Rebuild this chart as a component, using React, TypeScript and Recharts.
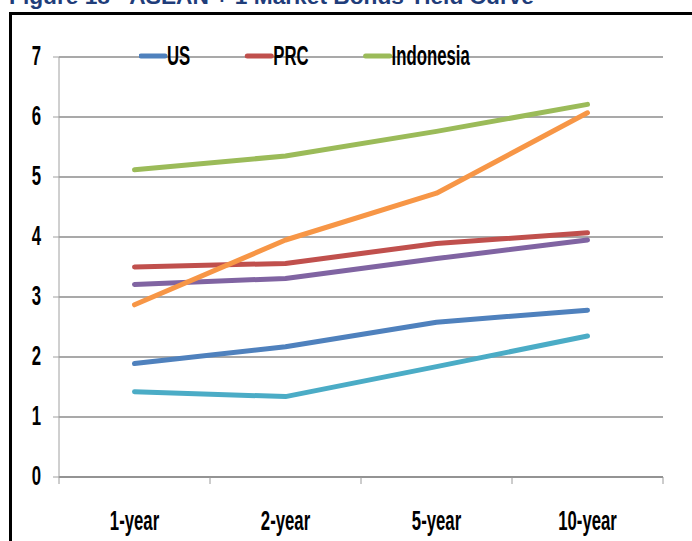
import React from "react";
import { LineChart, Line, XAxis, YAxis, CartesianGrid } from "recharts";

// tenors on the x axis
const terms = ["1-year", "2-year", "5-year", "10-year"];

// yields (%) by market
const us = [1.89, 2.17, 2.58, 2.78];
const prc = [3.5, 3.56, 3.89, 4.07];
const indonesia = [5.12, 5.35, 5.76, 6.21];
const malaysia = [3.21, 3.31, 3.64, 3.95];
const singapore = [1.42, 1.34, 1.84, 2.35];
const philippines = [2.87, 3.95, 4.73, 6.07];

const yTicks = [0, 1, 2, 3, 4, 5, 6, 7];

const series = [
  { key: "us", name: "US", color: "#4F81BD", values: us, legend: true },
  { key: "prc", name: "PRC", color: "#C0504D", values: prc, legend: true },
  { key: "indonesia", name: "Indonesia", color: "#9BBB59", values: indonesia, legend: true },
  { key: "malaysia", name: "Malaysia", color: "#8064A2", values: malaysia, legend: false },
  { key: "singapore", name: "Singapore", color: "#4BACC6", values: singapore, legend: false },
  { key: "philippines", name: "Philippines", color: "#F79646", values: philippines, legend: false },
];

const data = terms.map((term, i) => {
  const row: Record<string, string | number> = { term };
  series.forEach((s) => (row[s.key] = s.values[i]));
  return row;
});

const W = 692;
const H = 541;
const PLOT_LEFT = 59;
const PLOT_RIGHT = 663;
const FONT = '"Liberation Sans", Arial, sans-serif';
const LABEL_SIZE = 27;
const SQUEEZE = 0.62; // narrow the bold labels

const YTick = (props: any) => {
  const { x, y, payload } = props;
  return (
    <text
      transform={`translate(${x},${y}) scale(${SQUEEZE},1)`}
      dy={8}
      textAnchor="end"
      fontFamily={FONT}
      fontWeight="bold"
      fontSize={LABEL_SIZE}
      fill="#000"
    >
      {payload.value}
    </text>
  );
};

const XTick = (props: any) => {
  const { x, y, payload, index, visibleTicksCount } = props;
  const half =
    payload.offset || (PLOT_RIGHT - PLOT_LEFT) / terms.length / 2;
  const last = index === (visibleTicksCount ?? terms.length) - 1;
  return (
    <g>
      <line x1={x - half} x2={x - half} y1={y} y2={y + 7} stroke="#9a9a9a" />
      {last && <line x1={x + half} x2={x + half} y1={y} y2={y + 7} stroke="#9a9a9a" />}
      <text
        transform={`translate(${x},${y + 53}) scale(${SQUEEZE},1)`}
        textAnchor="middle"
        fontFamily={FONT}
        fontWeight="bold"
        fontSize={LABEL_SIZE}
        fill="#000"
      >
        {payload.value}
      </text>
    </g>
  );
};

function measure(text: string) {
  const ctx = document.createElement("canvas").getContext("2d");
  if (!ctx) return text.length * 10;
  ctx.font = `bold ${LABEL_SIZE}px ${FONT}`;
  return ctx.measureText(text).width * SQUEEZE;
}

function TopLegend() {
  const items = series.filter((s) => s.legend);
  let cx = 0;
  const placed = items.map((s) => {
    const at = cx;
    cx += 28 + measure(s.name) + 55;
    return { ...s, at };
  });
  return (
    <svg
      width={400}
      height={30}
      style={{ position: "absolute", left: 139, top: 41 }}
    >
      {placed.map((s) => (
        <g key={s.key}>
          <line
            x1={s.at + 2}
            x2={s.at + 26}
            y1={15}
            y2={15}
            stroke={s.color}
            strokeWidth={5}
            strokeLinecap="round"
          />
          <text
            transform={`translate(${s.at + 28},24) scale(${SQUEEZE},1)`}
            fontFamily={FONT}
            fontWeight="bold"
            fontSize={LABEL_SIZE}
            fill="#000"
          >
            {s.name}
          </text>
        </g>
      ))}
    </svg>
  );
}

export default function App() {
  return (
    <div
      style={{
        position: "fixed",
        left: 0,
        top: 0,
        width: W,
        height: H,
        overflow: "hidden",
        background: "#fff",
      }}
    >
      <svg width={W} height={12} style={{ position: "absolute", left: 0, top: 0 }}>
        <text
          x={9}
          y={4}
          textLength={525}
          lengthAdjust="spacingAndGlyphs"
          fontFamily={FONT}
          fontWeight="bold"
          fontSize={22}
          fill="#1F3D7A"
        >
          Figure 18 - ASEAN + 1 Market Bonds Yield Curve
        </text>
      </svg>
      <div
        style={{
          position: "absolute",
          left: 9,
          top: 12,
          width: 720,
          height: 580,
          border: "3px solid #000",
          boxSizing: "border-box",
        }}
      />
      <div style={{ position: "absolute", left: 0, top: 0 }}>
        <LineChart
          width={W}
          height={H}
          data={data}
          margin={{ top: 57, right: W - PLOT_RIGHT, bottom: 0, left: 0 }}
        >
          <CartesianGrid vertical={false} stroke="#8c8c8c" strokeWidth={1.5} />
          <XAxis
            dataKey="term"
            scale="band"
            height={64}
            interval={0}
            tickSize={0}
            tickMargin={0}
            tickLine={false}
            axisLine={{ stroke: "#8c8c8c", strokeWidth: 1.5 }}
            tick={<XTick />}
          />
          <YAxis
            domain={[0, 7]}
            ticks={yTicks}
            interval={0}
            width={PLOT_LEFT}
            tickSize={6}
            tickMargin={12}
            axisLine={{ stroke: "#a0a0a0" }}
            tickLine={{ stroke: "#a0a0a0" }}
            tick={<YTick />}
          />
          {series.map((s) => (
            <Line
              key={s.key}
              type="linear"
              dataKey={s.key}
              name={s.name}
              stroke={s.color}
              strokeWidth={5}
              strokeLinecap="round"
              strokeLinejoin="round"
              dot={false}
              isAnimationActive={false}
            />
          ))}
        </LineChart>
      </div>
      <TopLegend />
    </div>
  );
}
